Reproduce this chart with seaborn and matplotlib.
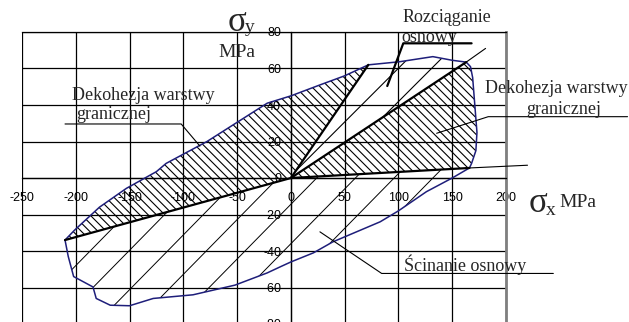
import numpy as np
import pandas as pd
import matplotlib
matplotlib.use("Agg")
import matplotlib.pyplot as plt
import seaborn as sns
from matplotlib.collections import LineCollection
from matplotlib.patches import Polygon

# ---------------- data ----------------
x_ticks = [-250, -200, -150, -100, -50, 0, 50, 100, 150, 200]
y_ticks = [-80, -60, -40, -20, 0, 20, 40, 60, 80]

# upper envelope: from lower-left corner A, over the top, to right point D
upper_x = [-210, -201, -178, -153, -125, -116, -78, -54, -22, 0, 27, 50, 72,
           101, 132, 150, 163, 167, 169, 171, 173, 172, 168, 166]
upper_y = [-34, -28.5, -16, -5.7, 3.5, 8, 20, 29, 41, 45, 51, 56, 62,
           63.7, 66.5, 64.5, 63.5, 61, 55, 40, 25, 15, 8, 5.5]
idx_B = 12   # (72, 62)  end of the steep ray from origin
idx_C = 16   # (163, 63.5) end of the middle ray from origin

# lower envelope: from A along the bottom to D
lower_x = [-210, -207, -202, -184, -181, -168, -150, -128, -91, -52, -22, -10,
           0, 21, 39, 83, 100, 126, 150, 166]
lower_y = [-34, -43, -54, -59.7, -66, -69.7, -70, -66, -64, -58.7, -52, -48.7,
           -46, -41, -35, -24, -18, -7.5, 0, 5.5]

origin = (0, 0)
# thin extensions of the two rays beyond the envelope
ray_C_end = (181, 71)
ray_D_end = (220, 7)

# leader lines
lead_left_x = [-210, -102, -84.6]
lead_left_y = [29.6, 29.6, 17.5]
lead_right_x = [313, 183.5, 135.5]
lead_right_y = [33.6, 33.6, 24.5]
lead_top_x = [89.6, 104.5, 168]
lead_top_y = [50.4, 73.8, 73.8]
lead_bot_x = [27, 84.4, 244]
lead_bot_y = [-29.5, -52.3, -52.3]

# ---------------- style ----------------
sns.set_theme(style="white")
plt.rcParams["font.family"] = ["Liberation Serif", "DejaVu Serif"]
plt.rcParams["hatch.linewidth"] = 0.8

fig = plt.figure(figsize=(6.29, 3.22), dpi=100)
ax = fig.add_axes([22 / 629, -2 / 322, 484 / 629, 292 / 322])

A = (upper_x[0], upper_y[0])
B = (upper_x[idx_B], upper_y[idx_B])
C = (upper_x[idx_C], upper_y[idx_C])
D = (upper_x[-1], upper_y[-1])
up = list(zip(upper_x, upper_y))
lo = list(zip(lower_x, lower_y))

dense = "\\\\\\\\"
# left debonding region
reg_left = up[: idx_B + 1] + [origin]
ax.add_patch(Polygon(reg_left, closed=True, facecolor="none", edgecolor="black",
                     lw=0, hatch=dense, zorder=1))
# middle tension region
reg_mid = [origin] + up[idx_B: idx_C + 1]
ax.add_patch(Polygon(reg_mid, closed=True, facecolor="none", edgecolor="black",
                     lw=0, hatch="/", zorder=1))
# right debonding region
reg_right = [origin] + up[idx_C:]
ax.add_patch(Polygon(reg_right, closed=True, facecolor="none", edgecolor="black",
                     lw=0, hatch=dense, zorder=1))
# bottom shear region: sparse hatch
reg_bot = [A, origin, D] + lo[::-1]
bot_patch = Polygon(reg_bot, closed=True, facecolor="none", edgecolor="none", lw=0, zorder=1)
ax.add_patch(bot_patch)
hatch_slope = 0.6
hatch_step = 36.0
segs = []
for x0 in np.arange(-420, 420, hatch_step):
    xs = np.array([-260.0, 210.0])
    segs.append(np.column_stack([xs, hatch_slope * (xs - x0 - 12)]))
lc = LineCollection(segs, colors="black", linewidths=0.7, zorder=1)
ax.add_collection(lc)
lc.set_clip_path(bot_patch)

# envelope curve
env = pd.DataFrame({"x": upper_x + lower_x[::-1], "y": upper_y + lower_y[::-1]})
sns.lineplot(data=env, x="x", y="y", sort=False, estimator=None, color="#1e1e7a",
             lw=1.1, ax=ax, zorder=3)

# rays from origin
thick = dict(color="black", lw=1.6, solid_capstyle="round", zorder=4)
for P in (A, B, C, D):
    ax.plot([origin[0], P[0]], [origin[1], P[1]], **thick)
ax.plot([C[0], ray_C_end[0]], [C[1], ray_C_end[1]], color="black", lw=0.8, zorder=4)
ax.plot([D[0], ray_D_end[0]], [D[1], ray_D_end[1]], color="black", lw=0.8,
        zorder=4, clip_on=False)

# leader lines
ax.plot(lead_left_x, lead_left_y, color="black", lw=0.8, zorder=4, clip_on=False)
ax.plot(lead_right_x, lead_right_y, color="black", lw=0.8, zorder=4, clip_on=False)
ax.plot(lead_top_x, lead_top_y, color="black", lw=1.6, zorder=4, clip_on=False)
ax.plot(lead_bot_x, lead_bot_y, color="black", lw=0.8, zorder=4, clip_on=False)

# axes, grid, frame
ax.set_xlim(-250, 200)
ax.set_ylim(-80, 80)
ax.set_facecolor("white")
ax.set_xticks(x_ticks)
ax.set_yticks(y_ticks)
ax.set_axisbelow(True)
ax.grid(True, color="black", lw=0.9)
ax.spines["left"].set_position(("data", 0))
ax.spines["bottom"].set_position(("data", 0))
for s in ["left", "bottom", "top"]:
    ax.spines[s].set_color("black")
    ax.spines[s].set_linewidth(0.9)
ax.spines["right"].set_color("#7f7f7f")
ax.spines["right"].set_linewidth(2.0)
ax.set_xticklabels([str(v) for v in x_ticks], fontfamily="Liberation Sans", fontsize=9)
ax.set_yticklabels([str(v) for v in y_ticks], fontfamily="Liberation Sans", fontsize=9)
ax.tick_params(axis="x", length=0, pad=10, colors="black")
ax.tick_params(axis="y", length=3.5, width=0.9, pad=3.5, direction="out", colors="black")
ax.set_xlabel("")
ax.set_ylabel("")

# labels
fs = 13
ax.text(-203.9, 42.7, "Dekohezja warstwy", fontsize=fs, va="baseline", ha="left", zorder=5)
ax.text(-199.3, 32.3, "granicznej", fontsize=fs, va="baseline", ha="left", zorder=5)
ax.text(180.4, 46.4, "Dekohezja warstwy", fontsize=fs, va="baseline", ha="left", zorder=5)
ax.text(219.2, 35.0, "granicznej", fontsize=fs, va="baseline", ha="left", zorder=5)
ax.text(103.5, 85.7, "Rozciąganie", fontsize=fs, va="baseline", ha="left", zorder=5)
ax.text(102.3, 74.4, "osnowy", fontsize=fs, va="baseline", ha="left", zorder=5)
ax.text(105.4, -51.0, "Ścinanie osnowy", fontsize=fs, va="baseline", ha="left", zorder=5)

# axis titles
ax.text(-58.9, 80.7, "σ", fontsize=25, va="baseline", ha="left", zorder=5)
ax.text(-42.8, 80.0, "y", fontsize=14, va="baseline", ha="left", zorder=5)
ax.text(-67.6, 66.5, "MPa", fontsize=14, va="baseline", ha="left", zorder=5)
ax.text(220.7, -18.6, "σ", fontsize=25, va="baseline", ha="left", zorder=5)
ax.text(237.0, -20.3, "x", fontsize=14, va="baseline", ha="left", zorder=5)
ax.text(250.0, -15.7, "MPa", fontsize=14, va="baseline", ha="left", zorder=5)

fig.savefig("out.png", dpi=100, facecolor="white")
